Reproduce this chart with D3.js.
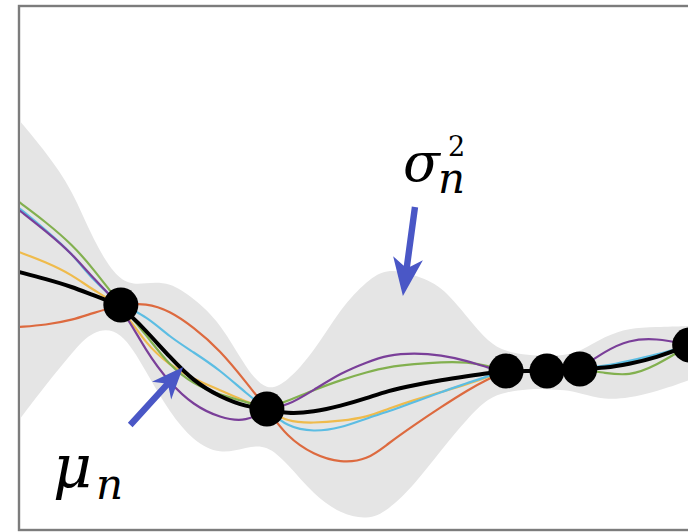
<!DOCTYPE html>
<html>
<head>
<meta charset="utf-8">
<script src="https://cdn.jsdelivr.net/npm/d3@7/dist/d3.min.js"></script>
<style>
  html, body { margin: 0; padding: 0; background: #fff; }
  svg { display: block; }
</style>
</head>
<body>
<svg id="chart" width="688" height="532"></svg>
<script>
// ---- data (abstract units) ----
const xs = [0, 4, 8, 11, 15.2, 19, 22.5, 26, 30, 34, 37, 40, 44, 48, 52, 55, 59, 63, 67, 70, 72.7, 76, 78.8, 81.5, 83.7, 87.5, 91, 95, 100.1];

const meanY  = [-0.08,-0.22,-0.38,-0.54,-0.74,-1.26,-1.78,-2.26,-2.58,-2.78,-2.82,-2.92,-2.88,-2.76,-2.60,-2.46,-2.34,-2.24,-2.16,-2.10,-2.06,-2.06,-2.06,-2.04,-2.02,-2.00,-1.92,-1.80,-1.54];
const upperY = [2.96,2.32,1.56,0.56,-0.36,-0.30,-0.28,-0.60,-1.08,-2.04,-2.48,-2.28,-1.68,-0.80,-0.24,0.00,-0.14,-0.34,-1.00,-1.48,-1.68,-1.74,-1.76,-1.74,-1.68,-1.36,-1.20,-1.18,-1.16];
const lowerY = [-3.04,-2.34,-1.68,-1.24,-1.20,-2.08,-2.90,-3.46,-3.74,-3.58,-3.54,-3.90,-4.54,-4.92,-5.04,-4.86,-4.34,-3.64,-3.00,-2.60,-2.48,-2.42,-2.42,-2.44,-2.50,-2.64,-2.60,-2.48,-2.24];

const greenY  = [1.32,0.92,0.46,0.00,-0.74,-1.34,-1.96,-2.32,-2.54,-2.68,-2.82,-2.66,-2.44,-2.24,-2.08,-1.98,-1.92,-1.88,-1.88,-1.96,-2.06,-2.06,-2.06,-2.04,-2.02,-2.10,-2.16,-1.96,-1.54];
const cyanY   = [1.20,0.76,0.28,-0.24,-0.74,-0.96,-1.38,-1.68,-2.04,-2.52,-2.82,-3.18,-3.28,-3.20,-3.00,-2.88,-2.68,-2.48,-2.30,-2.16,-2.06,-2.06,-2.06,-2.04,-2.02,-1.96,-1.86,-1.74,-1.54];
const purpleY = [1.16,0.74,0.28,-0.20,-0.74,-1.68,-2.30,-2.74,-3.00,-3.08,-2.82,-2.76,-2.44,-2.10,-1.88,-1.74,-1.70,-1.74,-1.86,-2.00,-2.06,-2.06,-2.06,-2.04,-2.02,-1.66,-1.44,-1.40,-1.54];
const yellowY = [0.32,0.12,-0.14,-0.44,-0.74,-1.54,-1.94,-2.22,-2.44,-2.68,-2.82,-3.08,-3.10,-3.06,-2.98,-2.82,-2.64,-2.48,-2.32,-2.18,-2.06,-2.06,-2.06,-2.04,-2.02,-1.98,-1.88,-1.76,-1.54];
const orangeY = [-1.18,-1.14,-1.04,-0.90,-0.74,-0.70,-0.86,-1.18,-1.64,-2.30,-2.82,-3.38,-3.74,-3.90,-3.84,-3.52,-3.14,-2.78,-2.44,-2.22,-2.06,-2.06,-2.06,-2.04,-2.02,-1.98,-1.88,-1.78,-1.54];

const obsX = [15.2, 37, 72.7, 78.8, 83.7, 100.1];
const obsY = [-0.74, -2.82, -2.06, -2.06, -2.02, -1.54];

const sampleNames  = ["orange", "yellow", "cyan", "green", "purple"];
const sampleColors = ["#dd6a3f", "#efbb4c", "#5cbde3", "#82b04f", "#7a3f99"];
const sampleSeries = [orangeY, yellowY, cyanY, greenY, purpleY];

// annotations: [tailX, tailY, tipX, tipY]
const arrowSigma = [59.1, 1.22, 57.3, -0.56];
const arrowMu    = [16.6, -3.14, 24.5, -1.98];

// ---- drawing ----
const W = 688, H = 532;
const svg = d3.select("#chart");
const x = d3.scaleLinear().domain([0, 100]).range([19, 689]);
const y = d3.scaleLinear().domain([-5.24, 5.24]).range([530, 6]);

// frame
svg.append("rect")
  .attr("x", 19).attr("y", 6).attr("width", W + 10).attr("height", 524)
  .attr("fill", "#fff").attr("stroke", "#7c7c7c").attr("stroke-width", 2.4);

const clip = svg.append("defs").append("clipPath").attr("id", "plotclip");
clip.append("rect").attr("x", 20).attr("y", 7).attr("width", W).attr("height", 522);

const g = svg.append("g").attr("clip-path", "url(#plotclip)");

const curve = d3.curveBasis;

const area = d3.area()
  .x((d, i) => x(xs[i]))
  .y0((d, i) => y(lowerY[i]))
  .y1((d, i) => y(upperY[i]))
  .curve(curve);

g.append("path").datum(xs).attr("d", area).attr("fill", "#e5e5e5");

const line = d3.line().x((d, i) => x(xs[i])).y(d => y(d)).curve(curve);

sampleSeries.forEach((s, k) => {
  g.append("path").datum(s).attr("d", line)
    .attr("fill", "none").attr("stroke", sampleColors[k])
    .attr("stroke-width", 2.2).attr("class", "sample " + sampleNames[k]);
});

g.append("path").datum(meanY).attr("d", line)
  .attr("fill", "none").attr("stroke", "#000").attr("stroke-width", 4);

g.selectAll("circle.obs").data(obsX).join("circle")
  .attr("class", "obs")
  .attr("cx", d => x(d)).attr("cy", (d, i) => y(obsY[i]))
  .attr("r", 17.5).attr("fill", "#000");

function arrowPath(a, headLen, headHalf, shaftHalf, notch) {
  const tx = x(a[0]), ty = y(a[1]), px = x(a[2]), py = y(a[3]);
  const L = Math.hypot(px - tx, py - ty);
  const ux = (px - tx) / L, uy = (py - ty) / L;
  const nx = -uy, ny = ux;
  const bx = px - ux * headLen, by = py - uy * headLen;
  const sx = bx + ux * notch, sy = by + uy * notch;
  const pts = [
    [tx + nx * shaftHalf, ty + ny * shaftHalf],
    [sx + nx * shaftHalf, sy + ny * shaftHalf],
    [bx + nx * headHalf, by + ny * headHalf],
    [px, py],
    [bx - nx * headHalf, by - ny * headHalf],
    [sx - nx * shaftHalf, sy - ny * shaftHalf],
    [tx - nx * shaftHalf, ty - ny * shaftHalf]
  ];
  return "M" + pts.map(p => p.join(",")).join("L") + "Z";
}

svg.append("path").attr("d", arrowPath(arrowSigma, 38, 15, 3.2, 8)).attr("fill", "#4a57c6");
svg.append("path").attr("d", arrowPath(arrowMu, 32, 13, 3.2, 7)).attr("fill", "#4a57c6");

// labels
const font = "'DejaVu Serif', 'Liberation Serif', serif";
const sig = svg.append("text").attr("font-family", font).attr("fill", "#000");
sig.append("tspan").attr("x", 403).attr("y", 181).attr("font-size", 54).attr("font-style", "italic").text("σ");
sig.append("tspan").attr("x", 438).attr("y", 193).attr("font-size", 42).attr("font-style", "italic").text("n");
const sup = svg.append("text").attr("font-family", font).attr("fill", "#000")
  .attr("x", 448).attr("y", 156).attr("font-size", 27).text("2");

const mu = svg.append("text").attr("font-family", font).attr("fill", "#000");
mu.append("tspan").attr("x", 53).attr("y", 488).attr("font-size", 60).attr("font-style", "italic").text("μ");
mu.append("tspan").attr("x", 96).attr("y", 499).attr("font-size", 42).attr("font-style", "italic").text("n");
</script>
</body>
</html>
